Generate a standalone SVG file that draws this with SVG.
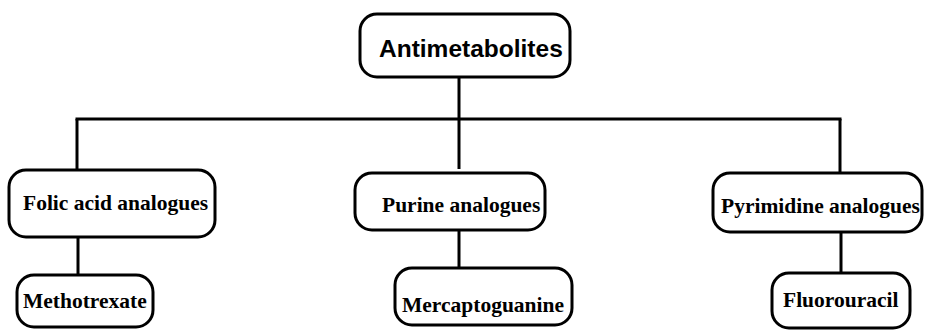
<svg xmlns="http://www.w3.org/2000/svg" width="925" height="330" viewBox="0 0 925 330">
  <style>
    .box { fill: #ffffff; stroke: #000000; stroke-width: 3; }
    .link { fill: none; stroke: #000000; stroke-width: 3; stroke-linecap: butt; }
    .head { font-family: "Liberation Sans", Arial, sans-serif; font-weight: bold; font-size: 24.5px; fill: #000000; }
    .lbl { font-family: "Liberation Serif", "Times New Roman", serif; font-weight: bold; font-size: 21.5px; fill: #000000; }
  </style>
  <rect width="925" height="330" fill="#ffffff"/>

  <g id="connectors">
    <path class="link" d="M459 77 V119"/>
    <path class="link" d="M75.5 119 H841.5"/>
    <path class="link" d="M77 119 V170"/>
    <path class="link" d="M459 119 V169"/>
    <path class="link" d="M840 119 V172"/>
    <path class="link" d="M78 237 V275"/>
    <path class="link" d="M459 230 V268"/>
    <path class="link" d="M841 232 V273"/>
  </g>

  <g id="antimetabolites">
    <rect class="box" x="360" y="14" width="210" height="63" rx="17"/>
    <text class="head" x="379" y="57">Antimetabolites</text>
  </g>

  <g id="folic-acid-analogues">
    <rect class="box" x="9" y="170" width="206" height="67" rx="17"/>
    <text class="lbl" x="23" y="210">Folic acid analogues</text>
  </g>

  <g id="purine-analogues">
    <rect class="box" x="355" y="173" width="190" height="57" rx="17"/>
    <text class="lbl" x="382" y="212">Purine analogues</text>
  </g>

  <g id="pyrimidine-analogues">
    <rect class="box" x="713" y="173" width="209" height="59" rx="17"/>
    <text class="lbl" x="721" y="213">Pyrimidine analogues</text>
  </g>

  <g id="methotrexate">
    <rect class="box" x="17" y="275" width="136" height="52" rx="17"/>
    <text class="lbl" x="23" y="308">Methotrexate</text>
  </g>

  <g id="mercaptoguanine">
    <rect class="box" x="395" y="268" width="177" height="57" rx="17"/>
    <text class="lbl" x="402" y="312">Mercaptoguanine</text>
  </g>

  <g id="fluorouracil">
    <rect class="box" x="772" y="273" width="138" height="55" rx="17"/>
    <text class="lbl" x="783" y="307">Fluorouracil</text>
  </g>
</svg>
